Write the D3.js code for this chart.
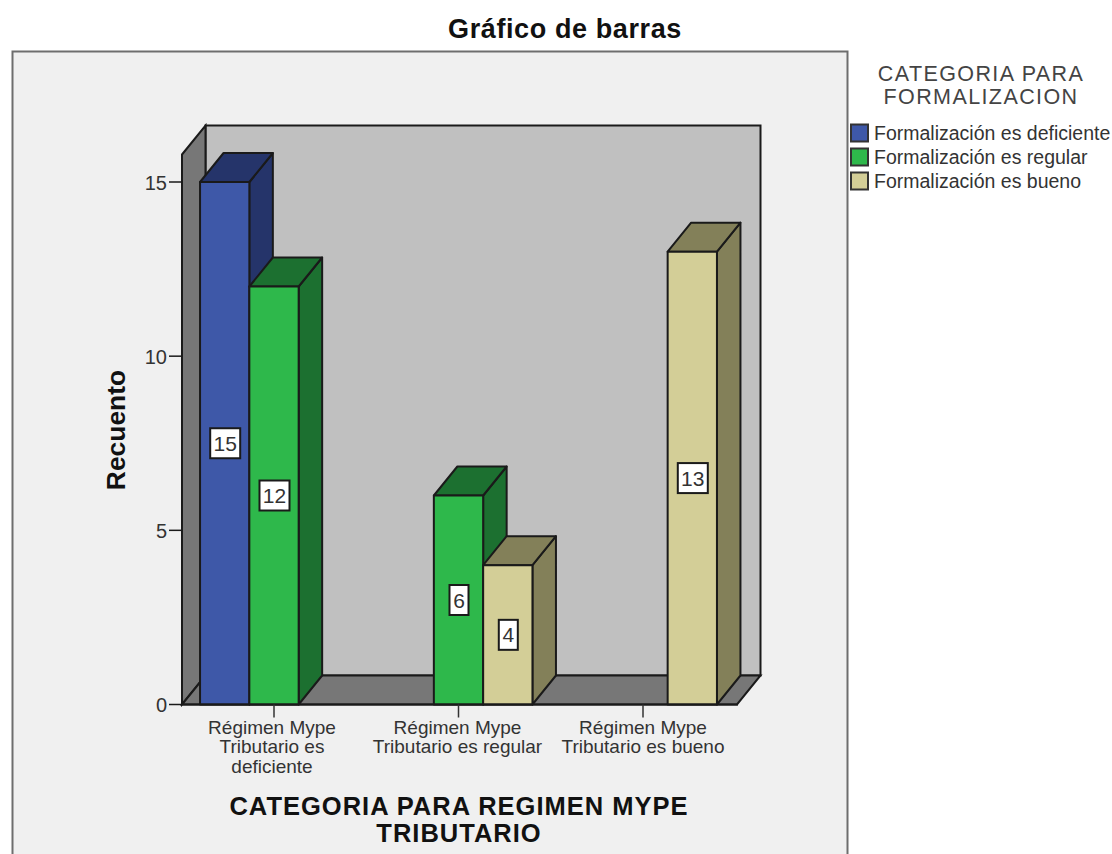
<!DOCTYPE html>
<html><head><meta charset="utf-8">
<script src="https://cdn.jsdelivr.net/npm/d3@7"></script>
<style>html,body{margin:0;padding:0;background:#fff;overflow:hidden}svg{display:block;font-family:"Liberation Sans",Arial,sans-serif}</style>
</head><body><svg id="c" width="1112" height="854"></svg>
<script>
const categories = ["Régimen Mype Tributario es deficiente","Régimen Mype Tributario es regular","Régimen Mype Tributario es bueno"];
const categoryLines = [["Régimen Mype","Tributario es","deficiente"],["Régimen Mype","Tributario es regular"],["Régimen Mype","Tributario es bueno"]];
const seriesNames = ["Formalización es deficiente","Formalización es regular","Formalización es bueno"];
const deficiente = [15,null,null];
const regular = [12,6,null];
const bueno = [null,4,13];
const colors = ["#3e58a8","#2eb84b","#d3ce97"];
const sideColors = ["#25346a","#1c7030","#838059"];
const yTicks = [0,5,10,15];

const svg = d3.select("#c");
const ink = "#1a1a1a", dx = 23.5, dy = 29;
const x0 = d3.scaleBand().domain(categories).range([181.75,735.25]).paddingInner(0).paddingOuter(0);
const slot = 49.3;
const x1 = d3.scaleBand().domain(seriesNames).range([-slot*1.5,slot*1.5]);
const y = d3.scaleLinear().domain([0,15]).range([704.5,182]);
const yTop = 154.5;
const left = 182, right = 737;
const path = p => d3.line()(p)+"Z";
function multi(x, yy, lines, lh){
  const t = svg.append("text").attr("x",x).attr("y",yy).attr("text-anchor","middle");
  lines.forEach((ln,k)=>t.append("tspan").attr("x",x).attr("dy",k?lh:0).text(ln));
  return t;
}

svg.append("rect").attr("x",12.5).attr("y",51.5).attr("width",835).attr("height",812).attr("fill","#f0f0f0").attr("stroke","#6e6e6e").attr("stroke-width",2);
svg.append("text").attr("x",565).attr("y",38).attr("text-anchor","middle").attr("font-size",27).attr("letter-spacing",0.6).attr("font-weight","bold").attr("fill","#111").text("Gráfico de barras");

svg.append("path").attr("d",path([[left+dx,yTop-dy],[right+dx,yTop-dy],[right+dx,y(0)-dy],[left+dx,y(0)-dy]])).attr("fill","#c0c0c0").attr("stroke",ink).attr("stroke-width",2);
svg.append("path").attr("d",path([[left,yTop],[left+dx,yTop-dy],[left+dx,y(0)-dy],[left,y(0)]])).attr("fill","#777").attr("stroke",ink).attr("stroke-width",2);
svg.append("path").attr("d",path([[left,y(0)],[left+dx,y(0)-dy],[right+dx,y(0)-dy],[right,y(0)]])).attr("fill","#777").attr("stroke",ink).attr("stroke-width",2);

const series = [deficiente,regular,bueno];
const labels = [];
series.forEach((vals,s)=>{
  vals.forEach((v,c)=>{
    if(v===null) return;
    const xa = x0(categories[c])+x0.bandwidth()/2+x1(seriesNames[s]);
    const xb = xa+x1.bandwidth();
    const yt = y(v), yb = y(0);
    const g = svg.append("g").attr("stroke",ink).attr("stroke-width",2).attr("stroke-linejoin","round");
    g.append("path").attr("d",path([[xb,yt],[xb+dx,yt-dy],[xb+dx,yb-dy],[xb,yb]])).attr("fill",sideColors[s]);
    g.append("path").attr("d",path([[xa,yt],[xa+dx,yt-dy],[xb+dx,yt-dy],[xb,yt]])).attr("fill",sideColors[s]);
    g.append("rect").attr("x",xa).attr("y",yt).attr("width",xb-xa).attr("height",yb-yt).attr("fill",colors[s]);
    labels.push({v,x:(xa+xb)/2,y:y(v/2)});
  });
});
labels.forEach(l=>{
  const w = l.v>=10?30:19;
  svg.append("rect").attr("x",l.x-w/2+0.5).attr("y",l.y-15).attr("width",w).attr("height",30).attr("fill","#fff").attr("stroke",ink).attr("stroke-width",2);
  svg.append("text").attr("x",l.x+0.5).attr("y",l.y+7.5).attr("text-anchor","middle").attr("font-size",21).attr("fill","#333").text(l.v);
});

svg.append("line").attr("x1",left-1).attr("x2",right+1).attr("y1",y(0)).attr("y2",y(0)).attr("stroke",ink).attr("stroke-width",2);

yTicks.forEach(t=>{
  svg.append("line").attr("x1",left-13).attr("x2",left).attr("y1",y(t)).attr("y2",y(t)).attr("stroke",ink).attr("stroke-width",1.5);
  svg.append("text").attr("x",left-15).attr("y",y(t)+7.5).attr("text-anchor","end").attr("font-size",20).attr("fill","#333").text(t);
});
categories.forEach((c,i)=>{
  const cx = x0(c)+x0.bandwidth()/2;
  svg.append("line").attr("x1",cx).attr("x2",cx).attr("y1",y(0)).attr("y2",y(0)+13).attr("stroke","#333").attr("stroke-width",1.5);
  multi(cx+[-2,-1,0][i],734,categoryLines[i],19.3).attr("font-size",19).attr("fill","#333");
});
svg.append("text").attr("transform","translate(125,430) rotate(-90)").attr("text-anchor","middle").attr("font-size",26.4).attr("font-weight","bold").attr("fill","#111").text("Recuento");
multi(459,815,["CATEGORIA PARA REGIMEN MYPE","TRIBUTARIO"],26.5).attr("font-size",25.5).attr("letter-spacing",1).attr("font-weight","bold").attr("fill","#111");
multi(981,81,["CATEGORIA PARA","FORMALIZACION"],23).attr("font-size",21.5).attr("letter-spacing",1.4).attr("fill","#444");
seriesNames.forEach((n,i)=>{
  const yy = 133.5+i*24;
  svg.append("rect").attr("x",851).attr("y",yy-9).attr("width",17).attr("height",17).attr("fill",colors[i]).attr("stroke","#333").attr("stroke-width",2);
  svg.append("text").attr("x",874).attr("y",yy+6.5).attr("font-size",19.5).attr("fill","#333").text(n);
});
</script></body></html>
